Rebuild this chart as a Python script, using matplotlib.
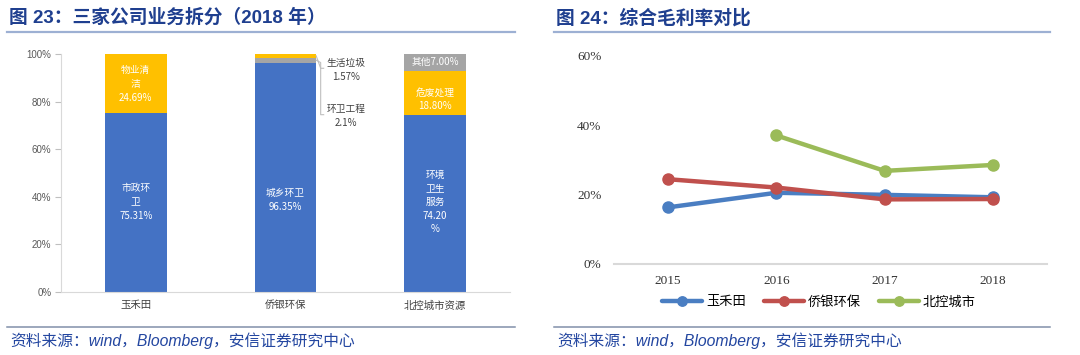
import numpy as np
import matplotlib
matplotlib.use("Agg")
import matplotlib.pyplot as plt
from matplotlib.lines import Line2D
import matplotlib.ticker as mtick

plt.rcParams['font.family'] = ['Noto Sans CJK SC', 'DejaVu Sans']

# ---- left chart data: business split 2018 (%)
companies = ['玉禾田', '侨银环保', '北控城市资源']
yht_parts = [75.31, 24.69]          # 市政环卫, 物业清洁
qy_parts = [96.35, 2.1, 1.57]       # 城乡环卫, 环卫工程, 生活垃圾
bk_parts = [74.20, 18.80, 7.00]     # 环境卫生服务, 危废处理, 其他

# ---- right chart data: gross margin (%)
years = ['2015', '2016', '2017', '2018']
yht_margin = [16.3, 20.5, 19.9, 19.2]
qy_margin = [24.4, 22.0, 18.6, 18.7]
bk_margin = [np.nan, 37.0, 26.8, 28.5]
series_names = ['玉禾田', '侨银环保', '北控城市']

BLUE = '#4472C4'
YELLOW = '#FFC000'
GREY = '#A5A5A5'
TITLE_C = '#1F3F8F'
CJK = ['Liberation Sans', 'Noto Sans CJK SC']

fig = plt.figure(figsize=(10.8, 3.55), dpi=100)
W, H = 1080, 355

def fx(px):
    return px / W

def fy(py):
    return 1 - py / H

# titles, rules, sources
fig.text(fx(9), fy(18), '图 23：三家公司业务拆分（2018 年）', family=CJK, weight='bold',
         fontsize=13.5, color=TITLE_C, va='center')
fig.text(fx(556), fy(18), '图 24：综合毛利率对比', family=CJK, weight='bold',
         fontsize=13.5, color=TITLE_C, va='center')
for x0, x1 in [(7, 515), (554, 1050)]:
    fig.add_artist(Line2D([fx(x0), fx(x1)], [fy(32), fy(32)], color='#9DB0D3', lw=1.6,
                          transform=fig.transFigure))
    fig.add_artist(Line2D([fx(x0), fx(x1)], [fy(327), fy(327)], color='#8190AA', lw=1.1,
                          transform=fig.transFigure))
for x0 in [10, 557]:
    fig.text(fx(x0), fy(341), '资料来源：wind，Bloomberg，安信证券研究中心', family=CJK,
             style='italic', fontsize=11.3, color='#2346A0', va='center')

# ---- left: stacked bars
ax = fig.add_axes([fx(61), fy(292), fx(449), 238 / H])
x = np.arange(len(companies))
bw = 0.41
stacks = [(yht_parts, [BLUE, YELLOW]),
          (qy_parts, [BLUE, GREY, YELLOW]),
          (bk_parts, [BLUE, YELLOW, GREY])]
for i, (parts, cols) in enumerate(stacks):
    bottom = 0
    for v, c in zip(parts, cols):
        ax.bar(x[i], v / 100, bw, bottom=bottom, color=c)
        bottom += v / 100

lab = dict(color='white', fontsize=7, ha='center', va='center', linespacing=1.45)
ax.text(x[0], 0.378, '市政环\n卫\n75.31%', **lab)
ax.text(x[0], 0.874, '物业清\n洁\n24.69%', **lab)
ax.text(x[1], 0.386, '城乡环卫\n96.35%', **lab)
ax.text(x[2], 0.378, '环境\n卫生\n服务\n74.20\n%', **lab)
ax.text(x[2], 0.809, '危废处理\n18.80%', **lab)
ax.text(x[2], 0.968, '其他7.00%', **lab)

# callouts for the thin segments of 侨银环保
edge = x[1] + bw / 2
qy_top = sum(qy_parts[:2]) / 100 + qy_parts[2] / 200
qy_mid = qy_parts[0] / 100 + qy_parts[1] / 200
ax.plot([edge, edge + 0.03, edge + 0.05], [qy_top, 0.94, 0.94], color='#BFBFBF', lw=0.8,
        clip_on=False)
ax.plot([edge, edge + 0.03, edge + 0.03, edge + 0.05], [qy_mid, qy_mid - 0.01, 0.745, 0.745],
        color='#BFBFBF', lw=0.8, clip_on=False)
note = dict(color='#404040', fontsize=7, ha='center', va='center', linespacing=1.5)
ax.text(edge + 0.2, 0.933, '生活垃圾\n1.57%', **note)
ax.text(edge + 0.2, 0.74, '环卫工程\n2.1%', **note)

ax.set_xlim(-0.5, 2.5)
ax.set_ylim(0, 1)
ax.set_xticks(x)
ax.set_xticklabels(companies, fontsize=7.5, color='#404040')
ax.set_yticks(np.arange(0, 1.01, 0.2))
ax.yaxis.set_major_formatter(mtick.PercentFormatter(1.0, decimals=0))
for t in ax.get_yticklabels():
    t.set_family('Liberation Sans')
ax.tick_params(axis='y', labelsize=7, colors='#BFBFBF', labelcolor='#595959', length=4, pad=3)
ax.tick_params(axis='x', length=0, pad=6)
for s in ['top', 'right']:
    ax.spines[s].set_visible(False)
ax.spines['left'].set_color('#D9D9D9')
ax.spines['bottom'].set_color('#D9D9D9')

# ---- right: margin lines
ax2 = fig.add_axes([fx(614), fy(264), fx(433), 208.5 / H])
xr = np.arange(len(years))
colors = ['#4A7EC2', '#C0504D', '#9BBB59']
handles = []
for vals, c, name in zip([yht_margin, qy_margin, bk_margin], colors, series_names):
    h, = ax2.plot(xr, np.array(vals) / 100, color=c, lw=3.2, marker='o', ms=8,
                  solid_capstyle='round', label=name)
    handles.append(h)
ax2.set_xlim(-0.5, 3.5)
ax2.set_ylim(0, 0.6)
ax2.set_xticks(xr)
ax2.set_xticklabels(years)
ax2.set_yticks([0, 0.2, 0.4, 0.6])
ax2.yaxis.set_major_formatter(mtick.PercentFormatter(1.0, decimals=0))
for t in ax2.get_xticklabels() + ax2.get_yticklabels():
    t.set_family('Liberation Serif')
ax2.tick_params(axis='both', length=0, labelsize=9.5, labelcolor='#333333')
ax2.tick_params(axis='x', pad=8)
ax2.tick_params(axis='y', pad=9)
for s in ['top', 'right', 'left']:
    ax2.spines[s].set_visible(False)
ax2.spines['bottom'].set_color('#D9D9D9')
ax2.spines['bottom'].set_linewidth(1.5)

fig.legend(handles=handles, loc='center', bbox_to_anchor=(fx(819), fy(302)), ncol=3,
           frameon=False, fontsize=9.5, handlelength=3.0, handletextpad=0.3,
           columnspacing=1.4, markerscale=0.85)

fig.savefig('out.png', dpi=100)
